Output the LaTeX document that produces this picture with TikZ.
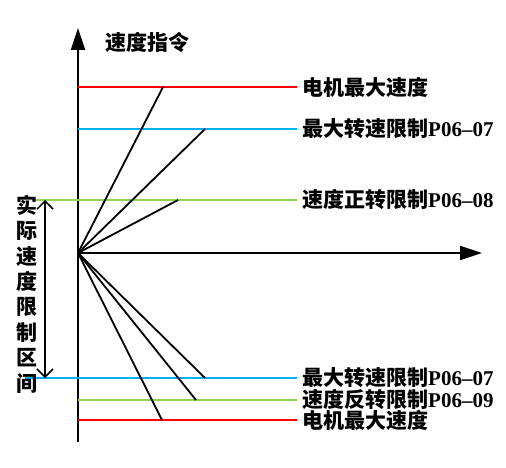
\documentclass[tikz,border=0pt]{standalone}
\usepackage{fontspec}
\setmainfont{Liberation Serif}
\newfontfamily\cjk{Noto Sans CJK SC}
\usetikzlibrary{arrows.meta}

\definecolor{limred}{RGB}{255,0,0}
\definecolor{limblue}{RGB}{0,176,240}
\definecolor{limgreen}{RGB}{146,208,80}

\tikzset{
  lbl/.style={anchor=west, inner sep=0pt, font=\fontsize{21}{25}\selectfont\bfseries},
  ray/.style={line width=1.8pt, black},
  lim/.style={line width=1.8pt},
  axis/.style={line width=2pt, -{Triangle[length=22pt,width=14pt]}}
}

\begin{document}
\begin{tikzpicture}[x=1pt,y=-1pt]
  \useasboundingbox (0,0) rectangle (506,468);

  % Origin and axes
  \coordinate (O) at (78,253);
  \coordinate (ybot) at (78,442);
  \coordinate (ytop) at (78,28);
  \coordinate (xend) at (482,253);
  \draw[axis] (ybot) -- (ytop);
  \draw[axis] (O) -- (xend);
  \node[lbl] (ylabel) at (105,42) {\cjk 速度指令};

  % Limit lines with their labels
  \foreach \name/\y/\xs/\col/\txt in {
      rtop/87/78/limred/{\cjk 电机最大速度},
      btop/129/78/limblue/{{\cjk 最大转速限制}P06–07},
      gtop/200/33/limgreen/{{\cjk 速度正转限制}P06–08},
      bbot/378/25/limblue/{{\cjk 最大转速限制}P06–07},
      gbot/400/78/limgreen/{{\cjk 速度反转限制}P06–09},
      rbot/420/78/limred/{\cjk 电机最大速度}} {
    \coordinate (\name s) at (\xs,\y);
    \coordinate (\name e) at (297,\y);
    \draw[lim, \col] (\name s) -- (\name e);
    \node[lbl] (\name l) at (302,\y) {\txt};
  }

  % Command rays from the origin
  \foreach \name/\x/\y in {ra/163/87, rb/205/129, rc/178/200,
                           rd/205/378, re/196/400, rf/162/420} {
    \coordinate (\name) at (\x,\y);
    \draw[ray] (O) -- (\name);
  }

  % Actual speed limit range
  \coordinate (rngtop) at (45,200);
  \coordinate (rngbot) at (45,378);
  \draw[line width=1.5pt, {Straight Barb[length=8pt,width=16pt]}-{Straight Barb[length=8pt,width=16pt]}] (rngtop) -- (rngbot);
  \node[inner sep=0pt, align=center, font=\fontsize{21}{25.4}\selectfont\bfseries\cjk] (rnglabel) at (27,294)
    {实\\际\\速\\度\\限\\制\\区\\间};

\end{tikzpicture}
\end{document}
